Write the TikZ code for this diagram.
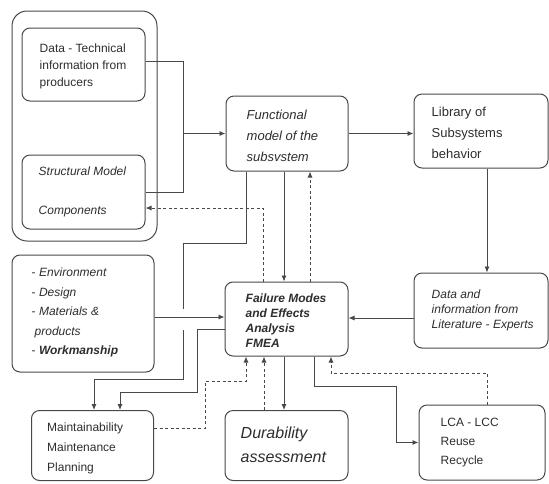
\documentclass[tikz,border=0pt]{standalone}
\usepackage{fontspec}
\setmainfont{Liberation Sans}
\usetikzlibrary{arrows.meta}
\definecolor{linec}{RGB}{72,72,72}
\definecolor{textc}{RGB}{45,45,45}
\tikzset{
  box/.style={draw=linec, line width=1pt, rounded corners=8pt, inner sep=0pt},
  txt/.style={text=textc, align=left, inner sep=0pt, anchor=west},
  conn/.style={draw=linec, line width=0.9pt},
  arr/.style={conn, -{Latex[length=6pt,width=5pt]}},
  dsh/.style={draw=linec, line width=0.9pt, dash pattern=on 3pt off 2.5pt},
  darr/.style={dsh, -{Latex[length=6pt,width=5pt]}},
}
\begin{document}
\begin{tikzpicture}[x=1pt,y=-1pt]
\useasboundingbox (0,0) rectangle (549,483);
% boxes
\node[box, rounded corners=15pt, minimum width=145pt, minimum height=230pt] (outer) at (84.5,126) {};
\node[box, minimum width=123pt, minimum height=73pt] (data) at (83.5,64.5) {};
\node[box, minimum width=123pt, minimum height=74pt] (struct) at (83.5,192) {};
\node[box, minimum width=122pt, minimum height=75pt] (func) at (287,133.5) {};
\node[box, minimum width=134pt, minimum height=74pt] (lib) at (481,131) {};
\node[box, minimum width=134pt, minimum height=75pt] (lit) at (481,310.5) {};
\node[box, minimum width=123pt, minimum height=74pt] (fmea) at (286.5,319) {};
\node[box, minimum width=142pt, minimum height=117pt] (env) at (83,313.5) {};
\node[box, minimum width=122pt, minimum height=70pt] (maint) at (92.5,445.5) {};
\node[box, minimum width=123pt, minimum height=70pt] (dur) at (286.5,445.5) {};
\node[box, minimum width=126pt, minimum height=75pt] (lca) at (482,442.5) {};
% texts
\node[txt, font=\fontsize{12}{17}\selectfont] (datat) at ([xshift=18pt,yshift=-2pt]data.west) {Data - Technical\\information from\\producers};
\node[txt, font=\fontsize{12}{17}\selectfont\itshape] (structt) at ([xshift=17pt]struct.west) {Structural Model\\[22pt]Components};
\node[txt, font=\fontsize{13}{21}\selectfont\itshape] (funct) at ([xshift=21pt,yshift=-2pt]func.west) {Functional\\model of the\\subsvstem};
\node[txt, font=\fontsize{13}{21}\selectfont] (libt) at ([xshift=18pt,yshift=-2pt]lib.west) {Library of\\Subsystems\\behavior};
\node[txt, font=\fontsize{12}{15}\selectfont\itshape] (litt) at ([xshift=18pt]lit.west) {Data and\\information from\\Literature - Experts};
\node[txt, font=\fontsize{12}{15}\selectfont\bfseries\itshape] (fmeat) at ([xshift=21pt,yshift=-1.5pt]fmea.west) {Failure Modes\\and Effects\\Analysis\\FMEA};
\node[txt, font=\fontsize{12}{19.5}\selectfont] (envt) at ([xshift=20pt,yshift=1pt]env.west) {- \textit{Environment}\\- \textit{Design}\\- \textit{Materials \&}\\\hspace{3pt}\textit{products}\\- \textbf{\textit{Workmanship}}};
\node[txt, font=\fontsize{12}{20}\selectfont] (maintt) at ([xshift=16pt,yshift=-2.5pt]maint.west) {Maintainability\\Maintenance\\Planning};
\node[txt, font=\fontsize{16}{24}\selectfont\itshape] (durt) at ([xshift=16pt,yshift=1pt]dur.west) {Durability\\assessment};
\node[txt, font=\fontsize{12}{19}\selectfont] (lcat) at ([xshift=22pt]lca.west) {LCA - LCC\\Reuse\\Recycle};
% connectors
\draw[conn] ([yshift=3.5pt]data.east) -- ([yshift=3.5pt]data.east -| 183,0) |- (struct.east);
\draw[arr] (func.west -| 183,0) -- (func.west);
\draw[arr] (func.east) -- (func.east -| lib.west);
\draw[arr] ([xshift=6pt]lib.south) -- ([xshift=6pt]lib.south |- lit.north);
\draw[arr] ([yshift=-7.5pt]lit.west) -- ([yshift=-7.5pt]lit.west -| fmea.east);
\draw[arr] ([xshift=-3pt]func.south) -- ([xshift=-2.5pt]fmea.north);
\draw[darr] ([xshift=23.5pt]fmea.north) -- ([xshift=23pt]func.south);
\draw[darr] ([xshift=-23.5pt]fmea.north) |- ([yshift=-16pt]struct.east);
\draw[conn] ([xshift=-41pt]func.south) |- (183,243) -- (183,309);
\draw[arr] (183,330) -- (183,379) -| ([xshift=1.5pt]maint.north);
\draw[arr] ([yshift=-10pt]fmea.west) -| (197,392) -| ([xshift=27.5pt]maint.north);
\draw[arr] ([yshift=-3.5pt]env.east) -- ([yshift=-3.5pt]env.east -| fmea.west);
\draw[darr] ([yshift=17.5pt]maint.east) -| (205,381) -| ([xshift=-40.5pt]fmea.south);
\draw[darr] ([xshift=-22.5pt]dur.north) -- ([xshift=-22.5pt]fmea.south);
\draw[arr] ([xshift=-2.5pt]fmea.south) -- ([xshift=-2.5pt]dur.north);
\draw[arr] ([xshift=27.5pt]fmea.south) |- (396,386) |- (lca.west);
\draw[darr] ([xshift=5pt]lca.north) |- (331,373) -- ([xshift=44.5pt]fmea.south);
\end{tikzpicture}
\end{document}
